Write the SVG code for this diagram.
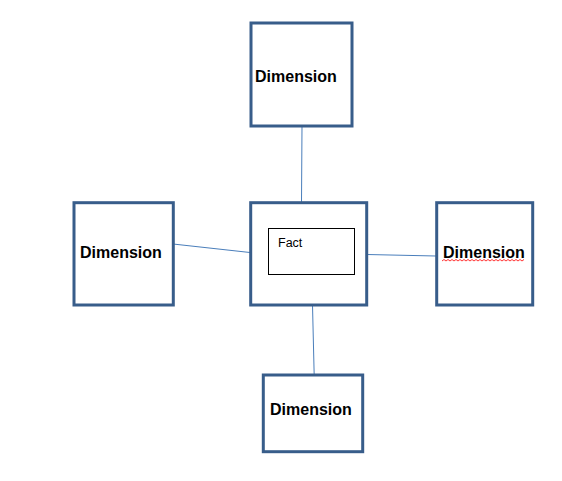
<svg xmlns="http://www.w3.org/2000/svg" width="562" height="481" viewBox="0 0 562 481">
  <style>
    .box { fill: #ffffff; stroke: #385d8a; stroke-width: 3; }
    .inner { fill: #ffffff; stroke: #000000; stroke-width: 1; }
    .lbl { font-family: "Liberation Sans", Arial, sans-serif; font-size: 16px; font-weight: bold; fill: #000000; }
    .fact { font-family: "Liberation Sans", Arial, sans-serif; font-size: 12.5px; fill: #000000; }
    .conn { stroke: #4a7ebb; stroke-width: 1; fill: none; }
  </style>
  <rect width="562" height="481" fill="#ffffff"/>
  <g id="connectors">
    <line class="conn" x1="302" y1="126" x2="301.5" y2="202"/>
    <line class="conn" x1="173" y1="244" x2="250" y2="252.5"/>
    <line class="conn" x1="367" y1="254.5" x2="436" y2="256"/>
    <line class="conn" x1="312.5" y1="305" x2="314.5" y2="389"/>
  </g>
  <g id="dim-top">
    <rect class="box" x="251" y="23" width="101" height="103"/>
    <text class="lbl" x="255" y="81.5">Dimension</text>
  </g>
  <g id="fact">
    <rect class="box" x="250.7" y="202.7" width="116" height="102.3"/>
    <rect class="inner" x="268.5" y="228.5" width="86" height="46"/>
    <text class="fact" x="278" y="247.3">Fact</text>
  </g>
  <g id="dim-left">
    <rect class="box" x="74" y="202.7" width="99.3" height="102.3"/>
    <text class="lbl" x="80" y="258.3">Dimension</text>
  </g>
  <g id="dim-right">
    <rect class="box" x="436.7" y="202.7" width="96" height="102.3"/>
    <text class="lbl" x="443" y="258">Dimension</text>
    <path d="M442 261 l2 -1.5 l2 1.5 l2 -1.5 l2 1.5 l2 -1.5 l2 1.5 l2 -1.5 l2 1.5 l2 -1.5 l2 1.5 l2 -1.5 l2 1.5 l2 -1.5 l2 1.5 l2 -1.5 l2 1.5 l2 -1.5 l2 1.5 l2 -1.5 l2 1.5 l2 -1.5 l2 1.5 l2 -1.5 l2 1.5 l2 -1.5 l2 1.5 l2 -1.5 l2 1.5 l2 -1.5 l2 1.5 l2 -1.5 l2 1.5 l2 -1.5 l2 1.5 l2 -1.5 l2 1.5 l2 -1.5 l2 1.5 l2 -1.5 l2 1.5 l2 -1.5" fill="none" stroke="#ff0000" stroke-width="0.8"/>
  </g>
  <g id="dim-bottom">
    <rect class="box" x="263.3" y="375" width="99.4" height="76.7"/>
    <text class="lbl" x="270" y="415">Dimension</text>
  </g>
</svg>
